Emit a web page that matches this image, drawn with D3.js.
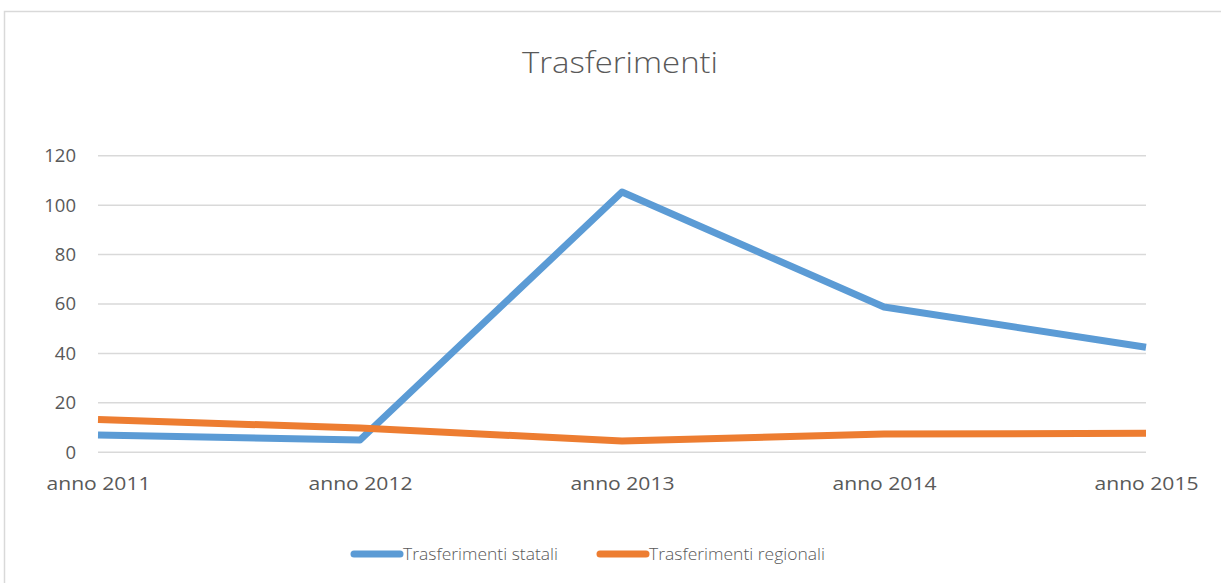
<!DOCTYPE html>
<html>
<head>
<meta charset="utf-8">
<script src="https://d3js.org/d3.v7.min.js"></script>
<style>
  body { margin: 0; background: #fff; }
  svg text { font-family: "Open Sans", "Liberation Sans", sans-serif; fill: #595959; }
</style>
</head>
<body>
<div id="chart"></div>
<script>
// chart values
var years = ["anno 2011", "anno 2012", "anno 2013", "anno 2014", "anno 2015"];
var statali = [7, 5, 105.3, 58.8, 42.5];
var regionali = [13.3, 9.8, 4.6, 7.4, 7.7];
var yTicks = [0, 20, 40, 60, 80, 100, 120];

var W = 1221, H = 583;
var margin = {left: 98, right: 75, top: 155.7, bottom: 130.7};

var svg = d3.select("#chart").append("svg")
  .attr("width", W).attr("height", H);

// outer frame of the chart area
svg.append("rect")
  .attr("x", 4.5).attr("y", 11.5)
  .attr("width", W + 10).attr("height", H + 10)
  .attr("fill", "none").attr("stroke", "#d9d9d9").attr("stroke-width", 1.5);

var x = d3.scalePoint().domain(years).range([margin.left, W - margin.right]);
var y = d3.scaleLinear().domain([0, 120]).range([H - margin.bottom, margin.top]);

// gridlines
svg.append("g").selectAll("line").data(yTicks).enter().append("line")
  .attr("x1", margin.left).attr("x2", W - margin.right)
  .attr("y1", function(d) { return y(d); }).attr("y2", function(d) { return y(d); })
  .attr("stroke", "#d9d9d9").attr("stroke-width", 1.5);

// y axis labels
var yAxis = svg.append("g")
  .attr("transform", "translate(" + (margin.left - 12) + ",0)")
  .call(d3.axisLeft(y).tickValues(yTicks).tickSize(0).tickPadding(10));
yAxis.select(".domain").remove();
yAxis.selectAll("text").attr("font-size", 18.5).style("fill", "#595959")
  .style("font-family", "'Open Sans', sans-serif");

// x axis labels
var xAxis = svg.append("g")
  .attr("transform", "translate(0," + (H - margin.bottom) + ")")
  .call(d3.axisBottom(x).tickSize(0).tickPadding(25));
xAxis.select(".domain").remove();
xAxis.selectAll("text").attr("font-size", 18.5).style("fill", "#595959")
  .style("font-family", "'Open Sans', sans-serif")
  .attr("textLength", 104).attr("lengthAdjust", "spacingAndGlyphs");

var line = d3.line()
  .x(function(d, i) { return x(years[i]); })
  .y(function(d) { return y(d); });

var series = [
  {name: "Trasferimenti statali", values: statali, color: "#5B9BD5"},
  {name: "Trasferimenti regionali", values: regionali, color: "#ED7D31"}
];

series.forEach(function(s) {
  svg.append("path")
    .datum(s.values)
    .attr("fill", "none")
    .attr("stroke", s.color)
    .attr("stroke-width", 7)
    .attr("stroke-linejoin", "round")
    .attr("d", line);
});

// title
svg.append("text")
  .attr("x", 620).attr("y", 73)
  .attr("text-anchor", "middle")
  .attr("font-size", 30).attr("font-weight", 300)
  .attr("textLength", 196).attr("lengthAdjust", "spacingAndGlyphs")
  .text("Trasferimenti");

// legend
var legendX = [351, 597], legendW = [155, 176];
series.forEach(function(s, i) {
  var g = svg.append("g").attr("transform", "translate(" + legendX[i] + ",554)");
  g.append("line").attr("x1", 3).attr("x2", 49)
    .attr("stroke", s.color).attr("stroke-width", 7).attr("stroke-linecap", "round");
  g.append("text").attr("x", 52).attr("y", 6)
    .attr("font-size", 17).attr("font-weight", 300)
    .attr("textLength", legendW[i]).attr("lengthAdjust", "spacingAndGlyphs")
    .text(s.name);
});
</script>
</body>
</html>
